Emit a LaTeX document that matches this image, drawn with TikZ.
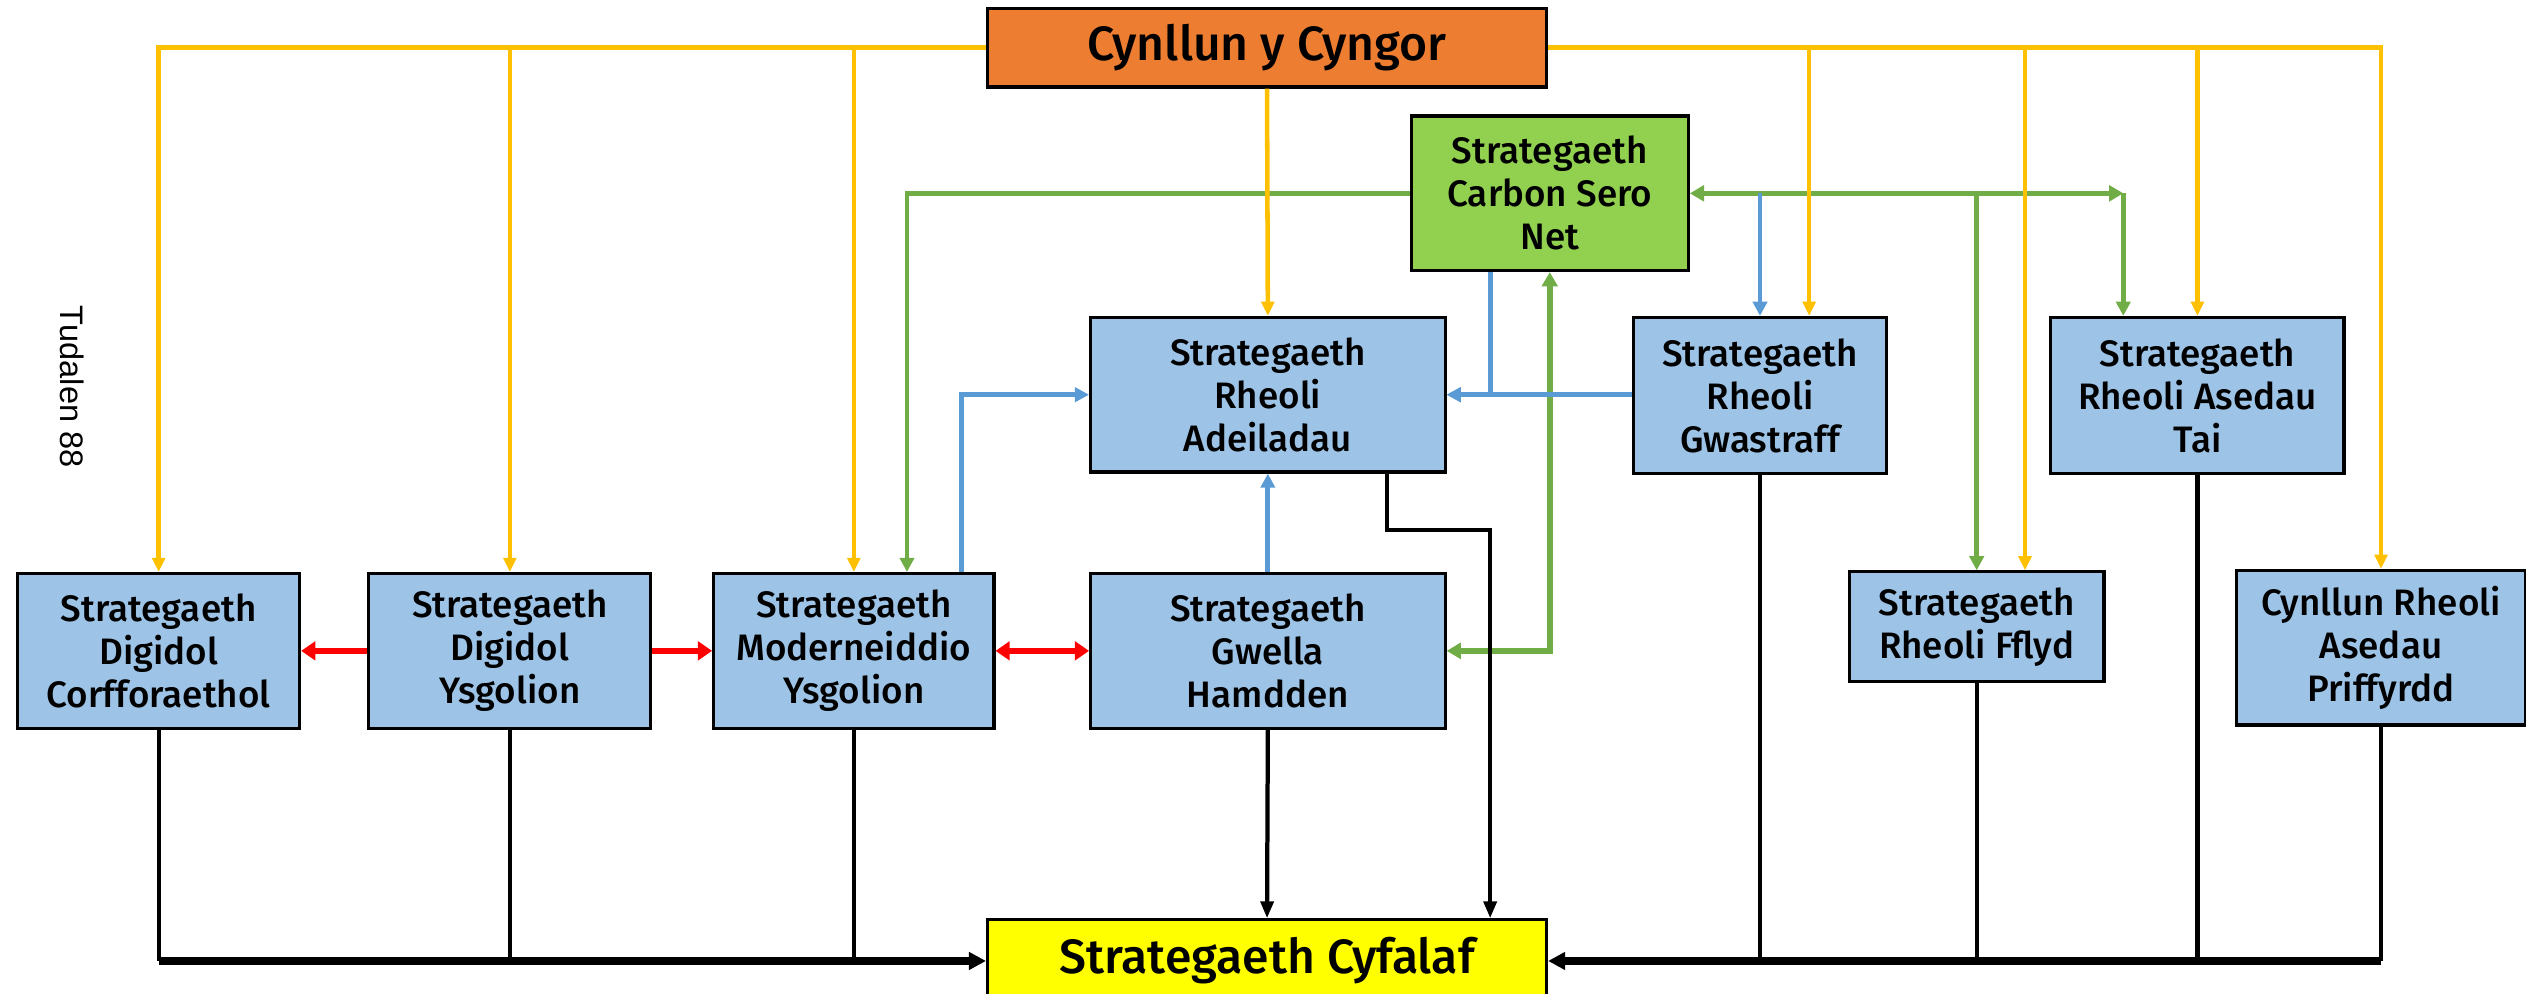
\documentclass[tikz,border=0pt]{standalone}
\usepackage{fontspec}
\IfFontExistsTF{Fira Sans Medium}{\setmainfont{Fira Sans Medium}}{\setmainfont{Fira Sans}}
\newfontfamily\pagefont{Liberation Sans}
\usetikzlibrary{arrows.meta}
\definecolor{cyngororange}{HTML}{ED7D31}
\definecolor{carbongreen}{HTML}{92D050}
\definecolor{stratblue}{HTML}{9DC3E6}
\definecolor{cyfalafyellow}{HTML}{FFFF00}
\definecolor{lineyellow}{HTML}{FFC000}
\definecolor{linegreen}{HTML}{70AD47}
\definecolor{lineblue}{HTML}{5B9BD5}
\tikzset{
	box/.style={draw, line width=1.1pt, fill=stratblue, align=center, inner sep=0pt, font=\fontsize{13}{15.2}\selectfont},
	bigbox/.style={box, font=\fontsize{17}{19}\selectfont},
	yel/.style={draw=lineyellow, line width=1.6pt, -{Triangle[length=5pt,width=4.5pt]}},
	grn/.style={draw=linegreen, line width=1.7pt, -{Triangle[length=5pt,width=5pt]}},
	grnboth/.style={draw=linegreen, line width=2pt, {Triangle[length=5pt,width=5.5pt]}-{Triangle[length=5pt,width=5.5pt]}},
	blu/.style={draw=lineblue, line width=1.7pt, -{Triangle[length=5pt,width=5pt]}},
	redarr/.style={draw=red, line width=2.2pt, -{Triangle[length=5pt,width=6.5pt]}},
	redboth/.style={draw=red, line width=2.2pt, {Triangle[length=5pt,width=6.5pt]}-{Triangle[length=5pt,width=6.5pt]}},
	blk/.style={draw=black, line width=1.5pt, -{Triangle[length=6pt,width=4.5pt]}},
	blkline/.style={draw=black, line width=1.5pt},
	blkthick/.style={draw=black, line width=2.6pt, -{Triangle[length=6pt,width=6pt]}}
}
\begin{document}
\begin{tikzpicture}
	\useasboundingbox (0,0) rectangle (31.36,-12.34);
	\node[bigbox, fill=cyngororange, minimum width=6.94cm, minimum height=0.98cm] (cyngor) at (15.73,-0.59) {Cynllun y Cyngor};
	\node[box, fill=carbongreen, minimum width=3.44cm, minimum height=1.92cm] (carbon) at (19.24,-2.4) {Strategaeth\\Carbon Sero\\Net};
	\node[box, minimum width=4.4cm, minimum height=1.92cm] (adeil) at (15.74,-4.9) {Strategaeth\\Rheoli\\Adeiladau};
	\node[box, minimum width=3.14cm, minimum height=1.94cm] (gwastr) at (21.85,-4.91) {Strategaeth\\Rheoli\\Gwastraff};
	\node[box, minimum width=3.64cm, minimum height=1.94cm] (tai) at (27.28,-4.91) {Strategaeth\\Rheoli Asedau\\Tai};
	\node[box, minimum width=3.5cm, minimum height=1.92cm] (corff) at (1.97,-8.08) {Strategaeth\\Digidol\\Corfforaethol};
	\node[box, minimum width=3.5cm, minimum height=1.92cm] (ysg) at (6.33,-8.08) {Strategaeth\\Digidol\\Ysgolion};
	\node[box, minimum width=3.48cm, minimum height=1.92cm] (modern) at (10.6,-8.08) {Strategaeth\\Moderneiddio\\Ysgolion};
	\node[box, minimum width=4.4cm, minimum height=1.92cm] (hamdden) at (15.74,-8.08) {Strategaeth\\Gwella\\Hamdden};
	\node[box, minimum width=3.16cm, minimum height=1.36cm] (fflyd) at (24.54,-7.78) {Strategaeth\\Rheoli Fflyd};
	\node[box, minimum width=3.6cm, minimum height=1.92cm] (priff) at (29.56,-8.04) {Cynllun Rheoli\\Asedau\\Priffyrdd};
	\node[bigbox, fill=cyfalafyellow, minimum width=6.94cm, minimum height=1.02cm] (cyfalaf) at (15.73,-11.93) {Strategaeth Cyfalaf};
	\node[rotate=-90, font=\pagefont\fontsize{11.5}{13}\selectfont] (tudalen) at (0.9,-4.8) {Tudalen 88};
	\coordinate (taicorner) at (26.36,-2.4);

	\draw[grn] (carbon.west) -| ([xshift=0.66cm]modern.north);
	\draw[grnboth] (carbon.east) -- (taicorner);
	\draw[grn] (taicorner) -- (taicorner |- tai.north);
	\draw[grn] (fflyd.north |- carbon.east) -- (fflyd.north);
	\draw[grnboth] (hamdden.east) -| (carbon.south);

	\draw[blu] (gwastr.north |- carbon.east) -- (gwastr.north);
	\draw[blu] ([xshift=-0.74cm]carbon.south) |- (adeil.east);
	\draw[blu] (gwastr.west |- adeil.east) -- (adeil.east);
	\draw[blu] ([xshift=1.34cm]modern.north) |- (adeil.west);
	\draw[blu] (hamdden.north) -- (adeil.south);

	\draw[yel] (cyngor.west) -| (corff.north);
	\draw[yel] (ysg.north |- cyngor.west) -- (ysg.north);
	\draw[yel] (modern.north |- cyngor.west) -- (modern.north);
	\draw[yel] (cyngor.south) -- (adeil.north);
	\draw[yel] (cyngor.east) -| (priff.north);
	\draw[yel] ([xshift=0.61cm]gwastr.north |- cyngor.east) -- ([xshift=0.61cm]gwastr.north);
	\draw[yel] ([xshift=0.6cm]fflyd.north |- cyngor.east) -- ([xshift=0.6cm]fflyd.north);
	\draw[yel] (tai.north |- cyngor.east) -- (tai.north);

	\draw[redarr] (ysg.west) -- (corff.east);
	\draw[redarr] (ysg.east) -- (modern.west);
	\draw[redboth] (modern.east) -- (hamdden.west);

	\draw[blkline] (corff.south) -- (corff.south |- cyfalaf.west);
	\draw[blkline] (ysg.south) -- (ysg.south |- cyfalaf.west);
	\draw[blkline] (modern.south) -- (modern.south |- cyfalaf.west);
	\draw[blkthick] (corff.south |- cyfalaf.west) -- (cyfalaf.west);
	\draw[blk] (hamdden.south) -- (cyfalaf.north);
	\draw[blk] ([xshift=1.48cm]adeil.south) -- ++(0,-0.7) -| ([xshift=2.77cm]cyfalaf.north);
	\draw[blkline] (gwastr.south) -- (gwastr.south |- cyfalaf.east);
	\draw[blkline] (fflyd.south) -- (fflyd.south |- cyfalaf.east);
	\draw[blkline] (tai.south) -- (tai.south |- cyfalaf.east);
	\draw[blkline] (priff.south) -- (priff.south |- cyfalaf.east);
	\draw[blkthick] (priff.south |- cyfalaf.east) -- (cyfalaf.east);
\end{tikzpicture}
\end{document}
